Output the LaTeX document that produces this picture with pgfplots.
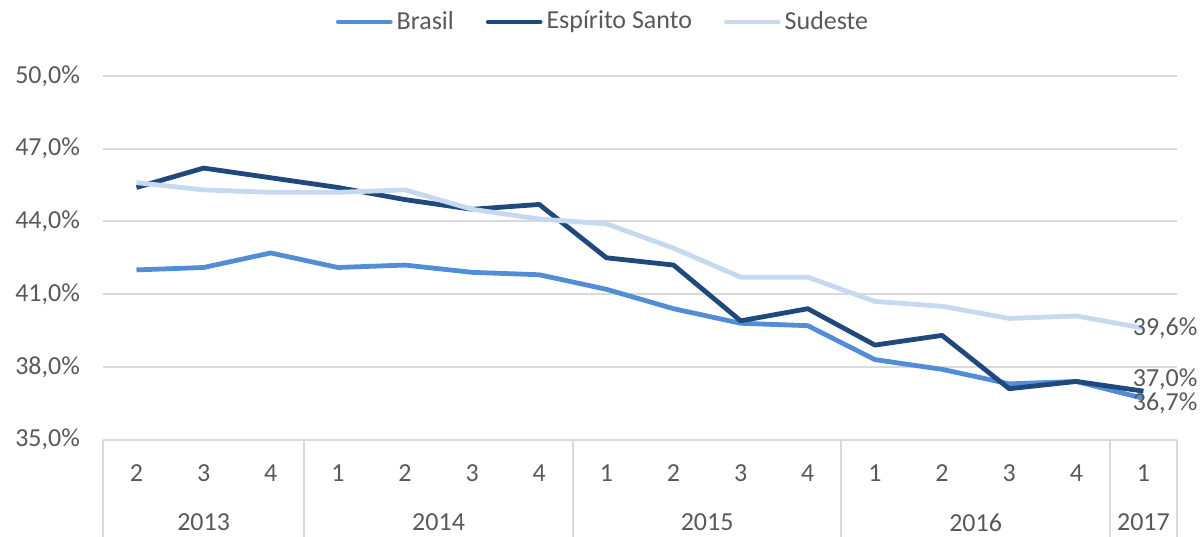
\documentclass[border=0pt]{standalone}
\usepackage{pgfplots}
\pgfplotsset{compat=1.18}
\usepackage{fontspec}
\setmainfont{Carlito}
\definecolor{cBR}{HTML}{538DD5}
\definecolor{cES}{HTML}{1F497D}
\definecolor{cSE}{HTML}{C6D9F0}
\definecolor{cGrid}{HTML}{D9D9D9}
\definecolor{cTxt}{HTML}{595959}
\begin{document}
\fontsize{13}{15}\selectfont
\begin{tikzpicture}
\begin{axis}[
  scale only axis,
  width=537.5pt, height=182pt,
  xmin=-0.5, xmax=15.5, ymin=35, ymax=50,
  ytick={35,38,41,44,47,50},
  xtick={0,...,15},
  xticklabels={2,3,4,1,2,3,4,1,2,3,4,1,2,3,4,1},
  major tick length=0pt,
  axis line style={draw=none},
  ymajorgrids, grid style={cGrid, line width=1pt},
  clip=false,
  /pgf/number format/assume math mode=true,
  yticklabel={\pgfmathprintnumber[fixed,fixed zerofill,precision=1,use comma]{\tick}\%},
  ticklabel style={text=cTxt, font=\fontsize{13}{15}\selectfont},
  yticklabel style={xshift=-7pt},
  xticklabel style={yshift=-8pt},
  legend columns=3,
  legend style={draw=none, fill=none, at={(axis description cs:0.5,1)}, anchor=center, yshift=27pt, xshift=-18pt, font=\fontsize{13}{15}\selectfont, text=cTxt, /tikz/every even column/.append style={column sep=14pt}},
  legend image code/.code={\draw[#1, line cap=round] (0pt,0pt) -- (26pt,0pt);},
  every axis plot/.append style={line width=2.4pt, mark=none, line join=round},
]
\addplot[cBR] coordinates {(0,42.0)(1,42.1)(2,42.7)(3,42.1)(4,42.2)(5,41.9)(6,41.8)(7,41.2)(8,40.4)(9,39.8)(10,39.7)(11,38.3)(12,37.9)(13,37.3)(14,37.4)(15,36.7)};
\addlegendentry{Brasil}
\addplot[cES] coordinates {(0,45.4)(1,46.2)(2,45.8)(3,45.4)(4,44.9)(5,44.5)(6,44.7)(7,42.5)(8,42.2)(9,39.9)(10,40.4)(11,38.9)(12,39.3)(13,37.1)(14,37.4)(15,37.0)};
\addlegendentry{Espírito Santo}
\addplot[cSE] coordinates {(0,45.6)(1,45.3)(2,45.2)(3,45.2)(4,45.3)(5,44.5)(6,44.1)(7,43.9)(8,42.9)(9,41.7)(10,41.7)(11,40.7)(12,40.5)(13,40.0)(14,40.1)(15,39.6)};
\addlegendentry{Sudeste}
% category separators
\pgfplotsinvokeforeach{-0.5,2.5,6.5,10.5,14.5,15.5}{
  \draw[cGrid, line width=1pt] (axis cs:#1,35) -- ([yshift=-48.5pt]axis cs:#1,35);
}
% year labels
\node[text=cTxt, anchor=center] at ([yshift=-41.5pt]axis cs:1,35) {2013};
\node[text=cTxt, anchor=center] at ([yshift=-41.5pt]axis cs:4.5,35) {2014};
\node[text=cTxt, anchor=center] at ([yshift=-41.5pt]axis cs:8.5,35) {2015};
\node[text=cTxt, anchor=center] at ([yshift=-41.5pt]axis cs:12.5,35) {2016};
\node[text=cTxt, anchor=center] at ([yshift=-41.5pt]axis cs:15,35) {2017};
% data labels
\node[text=cTxt, anchor=west, inner sep=0pt, xshift=-5.5pt] at (axis cs:15,39.6) {39,6\%};
\node[text=cTxt, anchor=west, inner sep=0pt, xshift=-5.5pt, yshift=6pt] at (axis cs:15,37.0) {37,0\%};
\node[text=cTxt, anchor=west, inner sep=0pt, xshift=-5.5pt, yshift=-2.5pt] at (axis cs:15,36.7) {36,7\%};
\end{axis}
\path (current axis.south west) ++(-51.5pt,-48.5pt) coordinate (bl);
\path (current axis.north east) ++(12.5pt,38pt) coordinate (tr);
\pgfresetboundingbox
\path[use as bounding box] (bl) rectangle (tr);
\end{tikzpicture}
\end{document}
